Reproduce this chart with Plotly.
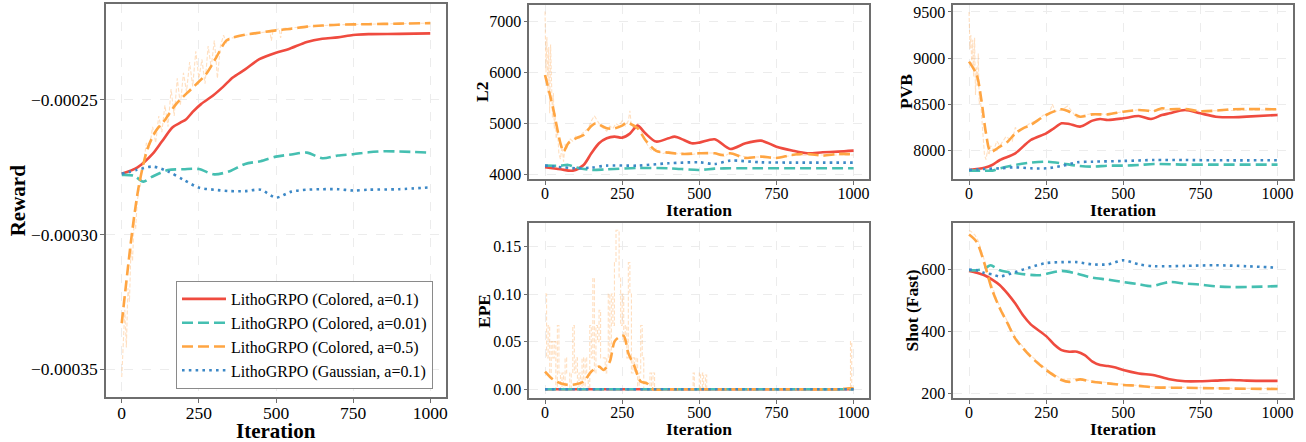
import plotly.graph_objects as go

FONT = "Liberation Serif"
W, H = 1306, 442
RED = '#EF4B3F'
TEAL = '#45BFB1'
ORANGE = '#FFA542'
BLUE = '#3C88C6'
RAW = 'rgba(255,170,90,0.38)'

SERIES_NAMES = ["LithoGRPO (Colored, a=0.1)", "LithoGRPO (Colored, a=0.01)",
                "LithoGRPO (Colored, a=0.5)", "LithoGRPO (Gaussian, a=0.1)"]
X_TICKS = [0, 250, 500, 750, 1000]

# ---------------- Reward ----------------
rw_red_x = [0, 50, 100, 130, 165, 190, 209, 230, 257, 295, 330, 360, 400, 446, 500, 540, 600, 650, 700, 750, 800, 900, 1000]
rw_red_y = [-2.775e-4, -2.752e-4, -2.701e-4, -2.655e-4, -2.602e-4, -2.585e-4, -2.572e-4, -2.545e-4, -2.516e-4, -2.485e-4,
            -2.450e-4, -2.417e-4, -2.387e-4, -2.349e-4, -2.325e-4, -2.312e-4, -2.285e-4, -2.273e-4, -2.268e-4, -2.259e-4,
            -2.256e-4, -2.255e-4, -2.253e-4]
rw_teal_x = [0, 40, 70, 100, 150, 200, 250, 300, 350, 400, 450, 500, 550, 600, 650, 700, 750, 800, 850, 900, 1000]
rw_teal_y = [-2.779e-4, -2.782e-4, -2.804e-4, -2.785e-4, -2.761e-4, -2.758e-4, -2.757e-4, -2.777e-4, -2.765e-4, -2.738e-4,
             -2.728e-4, -2.711e-4, -2.703e-4, -2.696e-4, -2.717e-4, -2.707e-4, -2.702e-4, -2.695e-4, -2.691e-4, -2.692e-4,
             -2.696e-4]
rw_orange_x = [0, 36, 57, 84, 111, 140, 176, 225, 273, 306, 338, 360, 400, 450, 500, 550, 600, 650, 700, 800, 900, 1000]
rw_orange_y = [-3.33e-4, -2.97e-4, -2.81e-4, -2.68e-4, -2.615e-4, -2.575e-4, -2.516e-4, -2.460e-4, -2.405e-4, -2.343e-4,
               -2.281e-4, -2.269e-4, -2.258e-4, -2.250e-4, -2.242e-4, -2.236e-4, -2.228e-4, -2.224e-4, -2.221e-4,
               -2.219e-4, -2.217e-4, -2.215e-4]
rw_blue_x = [0, 50, 100, 150, 200, 250, 300, 350, 400, 450, 500, 550, 600, 650, 700, 750, 800, 900, 1000]
rw_blue_y = [-2.775e-4, -2.760e-4, -2.748e-4, -2.766e-4, -2.797e-4, -2.826e-4, -2.834e-4, -2.839e-4, -2.839e-4, -2.834e-4,
             -2.863e-4, -2.841e-4, -2.834e-4, -2.832e-4, -2.832e-4, -2.837e-4, -2.834e-4, -2.832e-4, -2.825e-4]
rw_raw_x = [0, 5, 10, 15, 20, 25, 30, 35, 40, 45, 50, 55, 60, 65, 70, 75, 80, 90, 100, 110, 120, 130, 140, 150, 160, 170,
            180, 190, 200, 210, 220, 230, 240, 250, 260, 270, 280, 290, 300, 305, 310, 320, 330, 340, 350, 360, 400, 480,
            485, 490, 510, 515, 520, 600, 700, 800, 1000]
rw_raw_y = [-3.53e-4, -3.38e-4, -3.28e-4, -3.42e-4, -3.20e-4, -3.25e-4, -3.05e-4, -3.10e-4, -2.95e-4, -2.98e-4, -2.88e-4,
            -2.84e-4, -2.82e-4, -2.76e-4, -2.74e-4, -2.70e-4, -2.66e-4, -2.68e-4, -2.60e-4, -2.66e-4, -2.56e-4, -2.62e-4,
            -2.52e-4, -2.60e-4, -2.46e-4, -2.56e-4, -2.42e-4, -2.52e-4, -2.40e-4, -2.47e-4, -2.36e-4, -2.45e-4, -2.32e-4,
            -2.42e-4, -2.35e-4, -2.44e-4, -2.30e-4, -2.38e-4, -2.28e-4, -2.34e-4, -2.42e-4, -2.30e-4, -2.26e-4, -2.29e-4,
            -2.27e-4, -2.27e-4, -2.26e-4, -2.245e-4, -2.28e-4, -2.245e-4, -2.235e-4, -2.27e-4, -2.235e-4, -2.228e-4,
            -2.221e-4, -2.219e-4, -2.215e-4]
rw_ticks = [-3.5e-4, -3.0e-4, -2.5e-4]
rw_ticktext = ["\u22120.00035", "\u22120.00030", "\u22120.00025"]

# ---------------- L2 ----------------
l2_red_x = [0, 50, 90, 125, 150, 175, 200, 225, 250, 275, 300, 325, 360, 400, 420, 450, 475, 500, 550, 600, 650, 700, 750, 800, 850, 900, 950, 1000]
l2_red_y = [4138, 4099, 4073, 4184, 4413, 4610, 4708, 4741, 4721, 4800, 4957, 4806, 4643, 4708, 4741, 4675, 4610, 4623, 4688, 4498, 4610, 4662, 4544, 4470, 4413, 4433, 4446, 4466]
l2_teal_x = [0, 50, 75, 100, 150, 200, 300, 400, 500, 550, 600, 700, 1000]
l2_teal_y = [4171, 4171, 4184, 4138, 4086, 4099, 4125, 4119, 4086, 4112, 4119, 4119, 4119]
l2_orange_x = [0, 25, 50, 60, 75, 100, 125, 150, 165, 200, 225, 250, 265, 300, 325, 360, 400, 450, 500, 550, 575, 600, 650, 700, 750, 800, 850, 900, 950, 1000]
l2_orange_y = [5952, 5330, 4610, 4446, 4610, 4708, 4773, 4950, 5003, 4904, 4904, 4957, 5016, 4904, 4675, 4459, 4426, 4400, 4413, 4413, 4380, 4413, 4321, 4348, 4321, 4380, 4400, 4367, 4400, 4394]
l2_blue_x = [0, 100, 150, 200, 300, 400, 500, 550, 600, 700, 800, 1000]
l2_blue_y = [4171, 4119, 4132, 4171, 4171, 4217, 4236, 4204, 4269, 4236, 4230, 4230]
l2_raw_x = [0, 3, 6, 9, 12, 15, 18, 21, 24, 27, 30, 33, 36, 40, 45, 50, 55, 60, 65, 70, 80, 90, 100, 110, 120, 130, 140, 150,
            160, 170, 180, 190, 200, 210, 220, 230, 240, 250, 260, 270, 275, 280, 290, 300, 310, 320, 330, 340, 350, 360, 380,
            400, 420, 450, 470, 500, 550, 580, 600, 650, 700, 750, 800, 900, 1000]
l2_raw_y = [7200, 6000, 6700, 5600, 6500, 5200, 6550, 5400, 5100, 5600, 4900, 5200, 4700, 4900, 4400, 4300, 4550, 4250, 4600,
            4500, 4700, 4650, 4750, 4700, 4800, 4850, 4900, 5050, 5150, 5050, 4950, 4900, 4850, 4950, 4900, 5000, 4950, 5050,
            4950, 5050, 5250, 4950, 4900, 5000, 4850, 4750, 4600, 4500, 4450, 4500, 4400, 4450, 4400, 4420, 4380, 4420, 4420,
            4350, 4420, 4340, 4340, 4320, 4370, 4380, 4380]
l2_ticks = [4000, 5000, 6000, 7000]

# ---------------- EPE ----------------
epe_orange_x = [0, 25, 50, 75, 100, 125, 150, 175, 190, 210, 225, 240, 255, 270, 290, 310, 330, 350, 400, 600, 800, 950, 985, 1000]
epe_orange_y = [0.0186, 0.0105, 0.0063, 0.0046, 0.0053, 0.0081, 0.0186, 0.0238, 0.0203, 0.0291, 0.0501, 0.0547, 0.0561,
                0.0379, 0.0238, 0.0081, 0.0063, 0.0, 0.0, 0.0, 0.0, 0.0, 0.001, 0.001]
epe_zero_x = [0, 1000]
epe_zero_y = [0.0, 0.0]
epe_raw_x = [0, 5, 10, 15, 20, 25, 30, 35, 40, 45, 50, 55, 60, 65, 70, 75, 80, 85, 90, 95, 100, 105, 110, 115, 120, 125, 130,
             135, 140, 145, 150, 155, 160, 165, 170, 175, 180, 185, 190, 195, 200, 205, 210, 215, 220, 225, 230, 235, 240,
             245, 250, 255, 260, 265, 270, 275, 280, 285, 290, 295, 300, 305, 310, 315, 320, 340, 345, 350, 355, 480, 484,
             500, 504, 510, 514, 520, 524, 985, 990, 994, 1000]
epe_raw_y = [0.100, 0.033, 0.067, 0.017, 0.050, 0.033, 0.050, 0.000, 0.067, 0.017, 0.000, 0.017, 0.000, 0.033, 0.017, 0.017,
             0.000, 0.017, 0.067, 0.017, 0.033, 0.000, 0.017, 0.000, 0.033, 0.000, 0.033, 0.017, 0.000, 0.067, 0.033, 0.117,
             0.017, 0.067, 0.050, 0.083, 0.033, 0.033, 0.033, 0.017, 0.033, 0.100, 0.033, 0.100, 0.067, 0.133, 0.167, 0.167,
             0.117, 0.067, 0.100, 0.050, 0.067, 0.033, 0.133, 0.100, 0.017, 0.033, 0.017, 0.033, 0.000, 0.017, 0.067, 0.033,
             0.000, 0.017, 0.000, 0.017, 0.000, 0.017, 0.000, 0.017, 0.000, 0.017, 0.000, 0.015, 0.000, 0.000, 0.050, 0.000,
             0.000]
epe_ticks = [0.0, 0.05, 0.10, 0.15]
epe_ticktext = ["0.00", "0.05", "0.10", "0.15"]

# ---------------- PVB ----------------
pvb_red_x = [0, 50, 75, 100, 150, 200, 250, 275, 300, 325, 360, 400, 425, 450, 500, 550, 590, 625, 650, 700, 750, 800, 850, 900, 1000]
pvb_red_y = [7787, 7812, 7841, 7895, 7968, 8112, 8184, 8239, 8293, 8286, 8257, 8322, 8340, 8329, 8347, 8372, 8340, 8383, 8401, 8437, 8401, 8365, 8358, 8365, 8383]
pvb_teal_x = [0, 50, 75, 100, 150, 200, 250, 300, 350, 400, 450, 500, 550, 600, 700, 800, 1000]
pvb_teal_y = [7780, 7780, 7780, 7805, 7841, 7867, 7877, 7859, 7834, 7823, 7834, 7834, 7841, 7852, 7845, 7845, 7845]
pvb_orange_x = [0, 25, 40, 55, 70, 100, 125, 150, 175, 200, 250, 300, 325, 360, 400, 450, 500, 550, 600, 625, 650, 700, 750, 800, 850, 900, 1000]
pvb_orange_y = [8962, 8817, 8546, 8184, 7986, 8040, 8094, 8184, 8239, 8275, 8383, 8445, 8419, 8365, 8390, 8390, 8419, 8437, 8427, 8456, 8445, 8448, 8423, 8430, 8445, 8448, 8445]
pvb_blue_x = [0, 50, 100, 150, 200, 250, 300, 350, 400, 500, 600, 700, 800, 1000]
pvb_blue_y = [7787, 7798, 7805, 7816, 7805, 7805, 7830, 7870, 7877, 7885, 7895, 7895, 7892, 7892]
pvb_raw_x = [0, 3, 6, 9, 12, 15, 18, 21, 24, 27, 30, 33, 36, 40, 45, 50, 55, 60, 65, 70, 80, 90, 100, 120, 140, 150, 160, 180,
             200, 220, 240, 260, 270, 280, 300, 320, 330, 350, 370, 400, 450, 500, 550, 600, 650, 700, 800, 1000]
pvb_raw_y = [9500, 9100, 9250, 8900, 9200, 8800, 9220, 8600, 8900, 8700, 9050, 8500, 8600, 8400, 8200, 7950, 7900, 8000, 7950,
             8050, 8000, 8100, 8050, 8150, 8100, 8250, 8200, 8250, 8300, 8320, 8380, 8400, 8500, 8420, 8440, 8480, 8440, 8350,
             8380, 8400, 8390, 8420, 8440, 8430, 8440, 8430, 8430, 8440]
pvb_ticks = [8000, 8500, 9000, 9500]

# ---------------- Shot (Fast) ----------------
shot_red_x = [0, 25, 50, 75, 100, 125, 150, 175, 200, 250, 275, 300, 325, 350, 375, 400, 425, 450, 475, 500, 550, 600, 650, 700, 750, 800, 850, 900, 1000]
shot_red_y = [594, 588, 580, 566, 548, 521, 489, 451, 422, 384, 358, 339, 334, 334, 323, 302, 291, 288, 283, 275, 264, 258, 245, 239, 239, 241, 243, 241, 240]
shot_teal_x = [0, 25, 50, 70, 100, 150, 225, 300, 350, 400, 450, 500, 550, 590, 650, 700, 750, 800, 850, 900, 1000]
shot_teal_y = [596, 596, 601, 612, 596, 587, 580, 594, 585, 572, 566, 558, 551, 545, 558, 553, 550, 544, 542, 542, 545]
shot_orange_x = [0, 25, 50, 75, 100, 125, 150, 200, 250, 300, 325, 360, 400, 450, 500, 550, 600, 700, 800, 1000]
shot_orange_y = [711, 687, 617, 532, 473, 425, 376, 318, 275, 243, 237, 245, 237, 232, 227, 224, 219, 218, 216, 214]
shot_blue_x = [0, 25, 50, 75, 100, 150, 200, 250, 300, 350, 400, 450, 500, 550, 600, 700, 800, 900, 1000]
shot_blue_y = [598, 596, 587, 583, 576, 590, 606, 619, 622, 622, 615, 615, 628, 615, 609, 610, 612, 609, 604]
shot_raw_x = [0, 10, 20, 30, 40, 50, 60, 75, 90, 100, 125, 150, 175, 200, 250, 300, 350, 400, 500, 600, 800, 1000]
shot_raw_y = [725, 718, 708, 690, 660, 625, 598, 545, 500, 480, 430, 380, 350, 322, 278, 246, 247, 240, 229, 221, 217, 215]
shot_ticks = [200, 400, 600]


def dom_x(a, b):
    return [a / W, b / W]


def dom_y(top, bottom):
    return [(H - bottom) / H, (H - top) / H]


fig = go.Figure()

STYLES = [
    dict(color=RED, width=2.6, dash='solid'),
    dict(color=TEAL, width=2.6, dash='11px,5px'),
    dict(color=ORANGE, width=2.6, dash='11px,5px'),
    dict(color=BLUE, width=2.6, dash='2.6px,4.2px'),
]

panels = [
    dict(ax='', raw=(rw_raw_x, rw_raw_y, 'linear'),
         series=[(rw_red_x, rw_red_y), (rw_teal_x, rw_teal_y), (rw_orange_x, rw_orange_y), (rw_blue_x, rw_blue_y)],
         legend=True),
    dict(ax='2', raw=(l2_raw_x, l2_raw_y, 'linear'),
         series=[(l2_red_x, l2_red_y), (l2_teal_x, l2_teal_y), (l2_orange_x, l2_orange_y), (l2_blue_x, l2_blue_y)],
         legend=False),
    dict(ax='3', raw=(pvb_raw_x, pvb_raw_y, 'linear'),
         series=[(pvb_red_x, pvb_red_y), (pvb_teal_x, pvb_teal_y), (pvb_orange_x, pvb_orange_y), (pvb_blue_x, pvb_blue_y)],
         legend=False),
    dict(ax='4', raw=(epe_raw_x, epe_raw_y, 'hv'),
         series=[(epe_zero_x, epe_zero_y), (epe_zero_x, epe_zero_y), (epe_orange_x, epe_orange_y), (epe_zero_x, epe_zero_y)],
         legend=False),
    dict(ax='5', raw=(shot_raw_x, shot_raw_y, 'linear'),
         series=[(shot_red_x, shot_red_y), (shot_teal_x, shot_teal_y), (shot_orange_x, shot_orange_y), (shot_blue_x, shot_blue_y)],
         legend=False),
]

for p in panels:
    xa = 'x' + p['ax']
    ya = 'y' + p['ax']
    rx, ry, rshape = p['raw']
    fig.add_trace(go.Scatter(x=rx, y=ry, mode='lines', xaxis=xa, yaxis=ya, showlegend=False, hoverinfo='skip',
                             line=dict(color=RAW, width=1.1, dash='4px,2px', shape=rshape)))
    for i, (sx, sy) in enumerate(p['series']):
        st = STYLES[i]
        fig.add_trace(go.Scatter(x=sx, y=sy, mode='lines', xaxis=xa, yaxis=ya, name=SERIES_NAMES[i],
                                 showlegend=p['legend'],
                                 line=dict(color=st['color'], width=st['width'], dash=st['dash'],
                                           shape='spline', smoothing=0.8)))

GRID = '#ececec'
FRAME = '#6e6e6e'


def xaxis(domain, anchor, size):
    return dict(domain=domain, anchor=anchor, range=[-51, 1051], tickvals=X_TICKS, showgrid=True, gridcolor=GRID,
                griddash='dash', gridwidth=1, zeroline=False, showline=True, mirror=True, linecolor=FRAME,
                linewidth=1.6, ticks='outside', ticklen=4, tickcolor=FRAME, ticklabelstandoff=-5,
                tickfont=dict(family=FONT, size=size, color='black'), automargin=False)


def yaxis(domain, anchor, rng, tickvals, size, ticktext=None):
    d = dict(domain=domain, anchor=anchor, range=rng, tickvals=tickvals, showgrid=True, gridcolor=GRID,
             griddash='dash', gridwidth=1, zeroline=False, showline=True, mirror=True, linecolor=FRAME,
             linewidth=1.6, ticks='outside', ticklen=4, tickcolor=FRAME, ticklabelstandoff=-1,
             tickfont=dict(family=FONT, size=size, color='black'), automargin=False)
    if ticktext is not None:
        d['ticktext'] = ticktext
    return d


LX = dom_x(106, 446)
MX = dom_x(529.3, 869.3)
RX = dom_x(953.3, 1293.3)
TOPY = dom_y(4.7, 179.3)
BOTY = dom_y(223, 398.3)

fig.update_layout(
    width=W, height=H, autosize=False,
    margin=dict(l=0, r=0, t=0, b=0),
    paper_bgcolor='white', plot_bgcolor='white',
    font=dict(family=FONT, color='black'),
    xaxis=xaxis(LX, 'y', 17.5),
    yaxis=yaxis(dom_y(4, 397), 'x', [-3.604e-4, -2.144e-4], rw_ticks, 17.5, rw_ticktext),
    xaxis2=xaxis(MX, 'y2', 16),
    yaxis2=yaxis(TOPY, 'x2', [3902, 7334], l2_ticks, 16),
    xaxis3=xaxis(RX, 'y3', 16),
    yaxis3=yaxis(TOPY, 'x3', [7686, 9579], pvb_ticks, 16),
    xaxis4=xaxis(MX, 'y4', 16),
    yaxis4=yaxis(BOTY, 'x4', [-0.0095, 0.1746], epe_ticks, 16, epe_ticktext),
    xaxis5=xaxis(RX, 'y5', 16),
    yaxis5=yaxis(BOTY, 'x5', [184, 748], shot_ticks, 16),
    legend=dict(x=433 / W, xanchor='right', y=(H - 389) / H, yanchor='bottom',
                bgcolor='white', bordercolor='#8a8a8a', borderwidth=1,
                font=dict(family=FONT, size=16, color='black'), itemwidth=44,
                tracegroupgap=0),
    showlegend=True,
)


def ann(text, xpx, ypx, size, angle=0):
    fig.add_annotation(text='<b>' + text + '</b>', x=xpx / W, y=(H - ypx) / H, xref='paper', yref='paper',
                       showarrow=False, textangle=angle, xanchor='center', yanchor='middle',
                       font=dict(family=FONT, size=size, color='black'))


ann('Iteration', 276, 430.5, 21)
ann('Reward', 17.5, 200.8, 21, -90)
ann('Iteration', 699.3, 209.5, 17.5)
ann('Iteration', 699.3, 429, 17.5)
ann('Iteration', 1123.3, 209.5, 17.5)
ann('Iteration', 1123.3, 428.7, 17.5)
ann('L2', 482, 92, 17.5, -90)
ann('EPE', 484, 311, 17.5, -90)
ann('PVB', 906, 92, 17.5, -90)
ann('Shot (Fast)', 911, 310.5, 17.5, -90)

fig.write_html("out.html", config={'displayModeBar': False},
               post_script="document.body.style.margin='0';document.body.style.padding='0';document.body.style.overflow='hidden';")
